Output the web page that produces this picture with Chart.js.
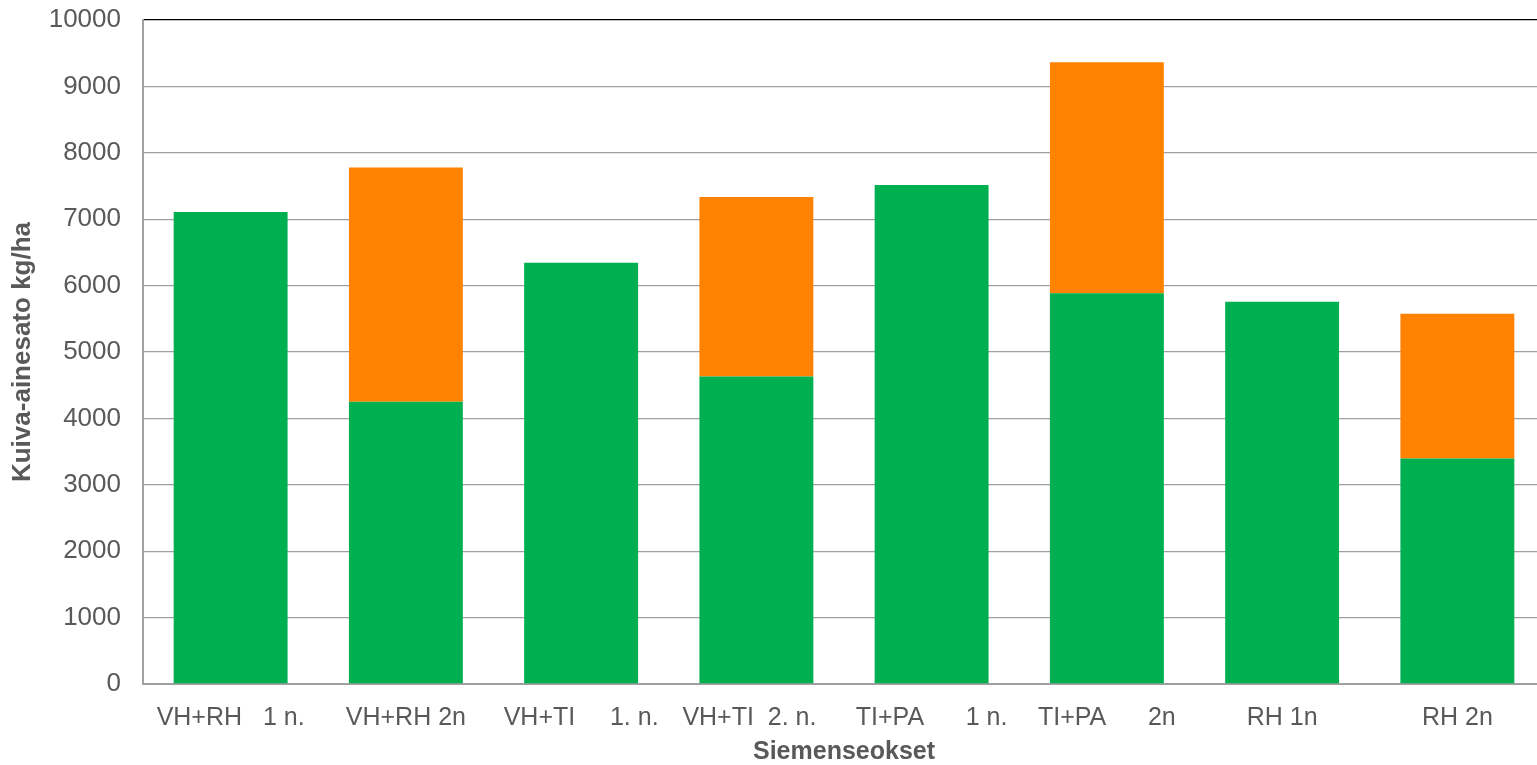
<!DOCTYPE html>
<html lang="fi">
<head>
<meta charset="utf-8">
<title>Kuiva-ainesato siemenseoksittain</title>
<script src="https://cdn.jsdelivr.net/npm/chart.js@4/dist/chart.umd.min.js"></script>
<style>
  html, body { margin: 0; padding: 0; background: #ffffff; overflow: hidden; }
  #wrap { width: 1537px; height: 765px; overflow: hidden; }
</style>
</head>
<body>
<div id="wrap"><canvas id="c" width="1545" height="765"></canvas></div>
<script>
// Seed mixtures (categories)
const categories = [
  'VH+RH   1 n.',
  'VH+RH 2n',
  'VH+TI     1. n.',
  'VH+TI  2. n.  ',
  'TI+PA      1 n.',
  'TI+PA      2n',
  'RH 1n',
  'RH 2n'
];

// Dry matter yield, kg/ha: first cut (green) and second cut (orange) stacked
const firstCut  = [7110, 4250, 6345, 4630, 7515, 5885, 5755, 3395];
const secondCut = [null, 3530, null, 2705, null, 3480, null, 2180];

const yTicks = [0, 1000, 2000, 3000, 4000, 5000, 6000, 7000, 8000, 9000, 10000];

const textColor = '#595959';
const gridColor = '#a0a0a0';
const fontFamily = 'Liberation Sans, Arial, sans-serif';

new Chart(document.getElementById('c'), {
  type: 'bar',
  data: {
    labels: categories,
    datasets: [
      { label: '1. niitto', data: firstCut, backgroundColor: '#00af50', borderWidth: 0 },
      { label: '2. niitto', data: secondCut, backgroundColor: '#ff8200', borderWidth: 0 }
    ]
  },
  options: {
    responsive: false,
    devicePixelRatio: 1,
    animation: false,
    layout: { padding: { top: 20, right: 0, left: 0, bottom: 0 } },
    plugins: {
      legend: { display: false },
      tooltip: { enabled: false }
    },
    datasets: { bar: { barPercentage: 0.65, categoryPercentage: 1.0 } },
    scales: {
      x: {
        stacked: true,
        grid: { display: false, drawTicks: false },
        border: { display: true, color: gridColor, width: 2 },
        ticks: {
          color: textColor,
          font: { family: fontFamily, size: 25 },
          padding: 19,
          maxRotation: 0,
          autoSkip: false
        },
        title: {
          display: true,
          text: 'Siemenseokset',
          color: textColor,
          font: { family: fontFamily, size: 25, weight: 'bold', lineHeight: 1 },
          padding: { top: 0, bottom: 0 }
        },
        afterFit: (s) => { s.height = 81; s.paddingLeft = 0; s.paddingRight = 0; }
      },
      y: {
        stacked: true,
        min: 0,
        max: 10000,
        afterBuildTicks: (s) => { s.ticks = yTicks.map(v => ({ value: v })); },
        grid: {
          drawTicks: false,
          lineWidth: 1.3,
          color: (ctx) => (ctx.tick && ctx.tick.value === 10000 ? '#000000' : gridColor)
        },
        border: { display: true, color: gridColor, width: 2 },
        ticks: {
          color: textColor,
          font: { family: fontFamily, size: 26 },
          padding: 22,
          callback: (v) => String(v)
        },
        title: {
          display: true,
          text: 'Kuiva-ainesato kg/ha',
          color: textColor,
          font: { family: fontFamily, size: 26, weight: 'bold', lineHeight: 1 },
          padding: { top: 10, bottom: 0 }
        },
        afterFit: (s) => { s.width = 143; s.paddingTop = 0; s.paddingBottom = 0; }
      }
    }
  }
});
</script>
</body>
</html>
